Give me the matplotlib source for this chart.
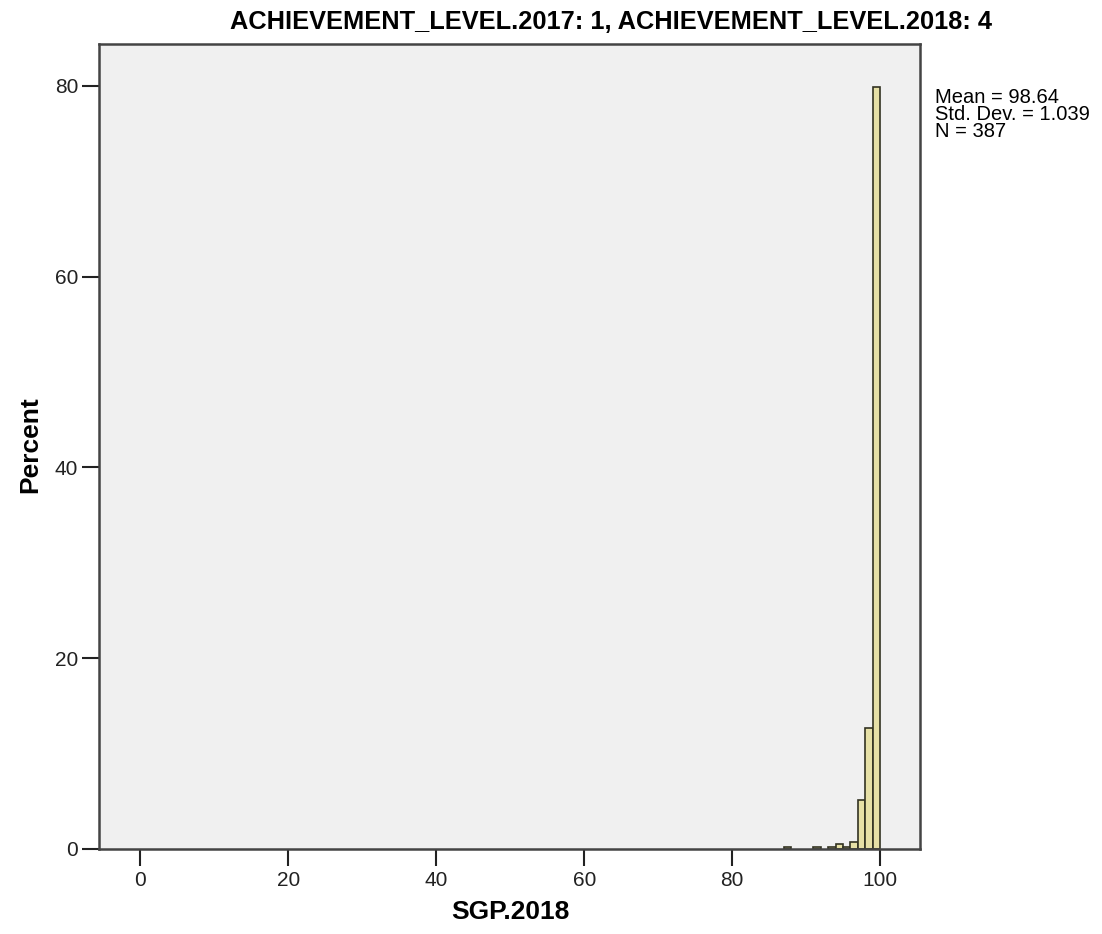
import matplotlib
matplotlib.use("Agg")
import matplotlib.pyplot as plt

bin_left = [87, 91, 93, 94, 95, 96, 97, 98, 99]
percent = [0.26, 0.26, 0.26, 0.52, 0.26, 0.78, 5.17, 12.66, 79.84]
xticks = [0, 20, 40, 60, 80, 100]
yticks = [0, 20, 40, 60, 80]
title = "ACHIEVEMENT_LEVEL.2017: 1, ACHIEVEMENT_LEVEL.2018: 4"
stats = "Mean = 98.64\nStd. Dev. = 1.039\nN = 387"

plt.rcParams['font.family'] = ['Liberation Sans', 'DejaVu Sans']

fig = plt.figure(figsize=(11.02, 9.34), dpi=100)
ax = fig.add_axes([99/1102, 1 - 849/934, (920-99)/1102, (849-44)/934])
ax.set_facecolor('#f0f0f0')
ax.bar(bin_left, percent, width=1.0, align='edge', color='#e6e0a6',
       edgecolor='#333322', linewidth=1.2)
ax.set_xlim(-5.6, 105.4)
ax.set_ylim(0, 84.4)
ax.set_xticks(xticks)
ax.set_yticks(yticks)
ax.tick_params(axis='both', labelsize=15, length=12, width=1.5, colors='#222222', pad=3)
ax.tick_params(axis='x', pad=4)
for s in ax.spines.values():
    s.set_linewidth(1.8)
    s.set_color('#444444')
fig.text(510/1102, 1 - 912/934, "SGP.2018", fontweight='bold', fontsize=19,
         ha='center', va='center')
fig.text(30/1102, 1 - 445/934, "Percent", fontweight='bold', fontsize=19,
         ha='center', va='center', rotation=90)
fig.text(611/1102, 1 - 22/934, title, fontweight='bold', fontsize=18.3,
         ha='center', va='center')
fig.text(935/1102, 1 - 88/934, stats, fontsize=14.5, va='top', ha='left', linespacing=0.88)
fig.savefig("out.png", dpi=100)
